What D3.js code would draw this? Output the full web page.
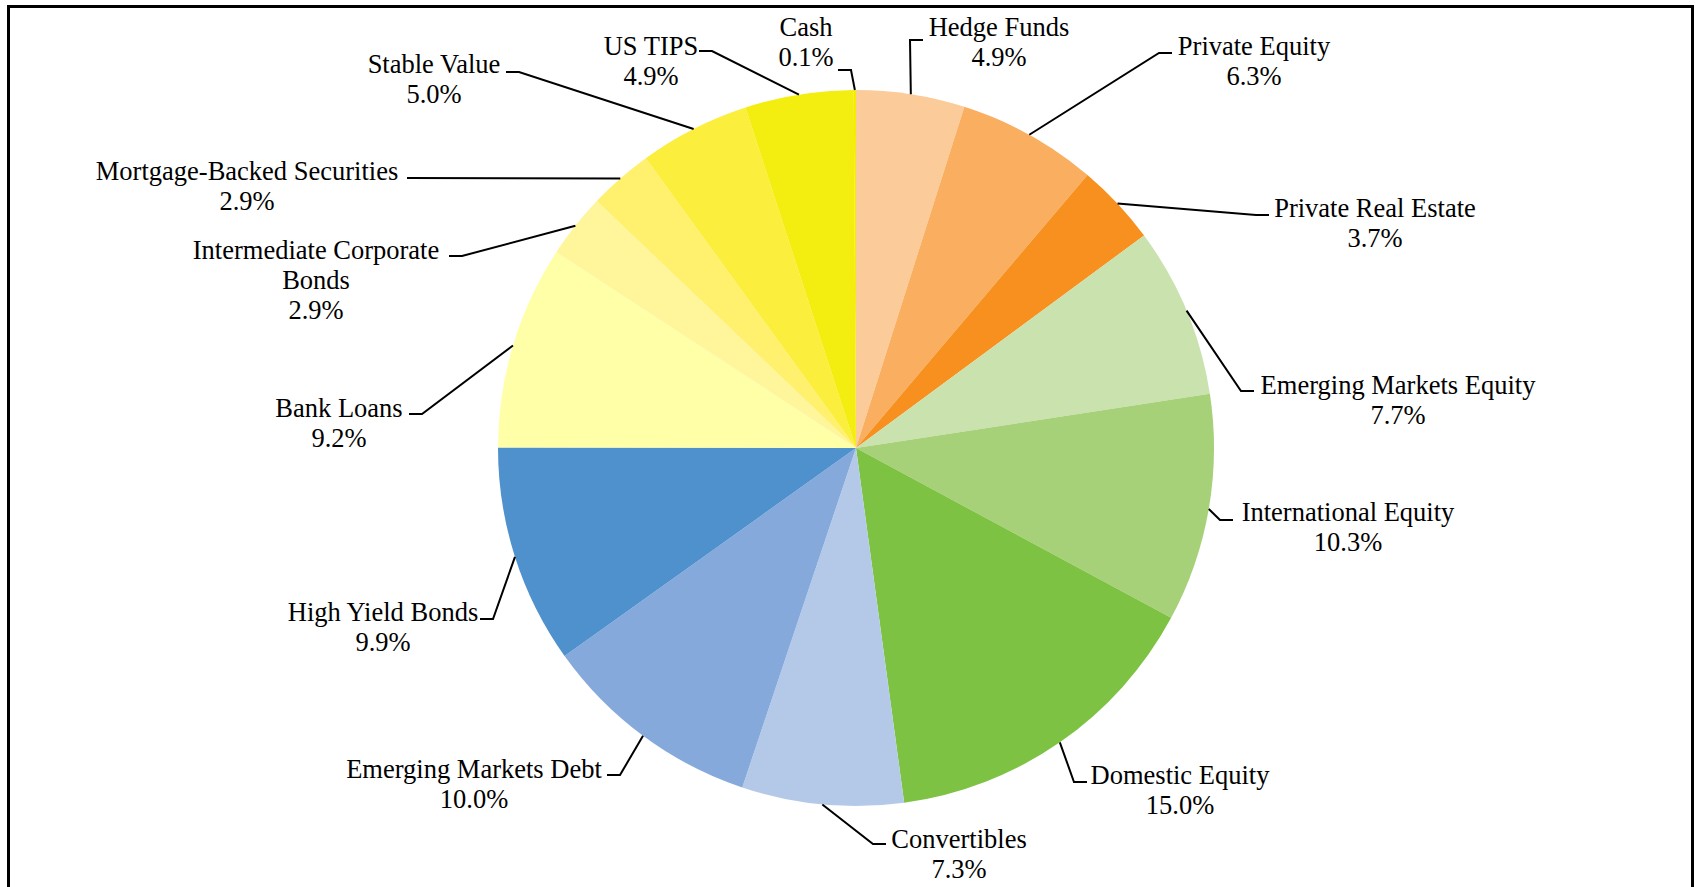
<!DOCTYPE html>
<html>
<head>
<meta charset="utf-8">
<script src="https://cdn.jsdelivr.net/npm/d3@7"></script>
<style>
  body { margin: 0; background: #fff; }
  text { font-family: "Liberation Serif", "Times New Roman", serif; font-size: 26.5px; fill: #000; }
</style>
</head>
<body>
<svg id="chart" width="1695" height="887"></svg>
<script>
// slices, clockwise from 12 o'clock
var categories = ["Hedge Funds", "Private Equity", "Private Real Estate", "Emerging Markets Equity",
  "International Equity", "Domestic Equity", "Convertibles", "Emerging Markets Debt",
  "High Yield Bonds", "Bank Loans", "Intermediate Corporate Bonds", "Mortgage-Backed Securities",
  "Stable Value", "US TIPS", "Cash"];
var values = [4.9, 6.3, 3.7, 7.7, 10.3, 15.0, 7.3, 10.0, 9.9, 9.2, 2.9, 2.9, 5.0, 4.9, 0.1];
var colors = ["#FBCB9A", "#F9AF5F", "#F7901E", "#C9E2AE", "#A6D178", "#7DC242", "#B4C9E8",
  "#86A9DB", "#4F91CD", "#FFFFA8", "#FFF59A", "#FFF06E", "#FCEE3C", "#F3EE0F", "#F5EC00"];
// how each label's text is broken into lines
var labelLines = [["Hedge Funds"], ["Private Equity"], ["Private Real Estate"], ["Emerging Markets Equity"],
  ["International Equity"], ["Domestic Equity"], ["Convertibles"], ["Emerging Markets Debt"],
  ["High Yield Bonds"], ["Bank Loans"], ["Intermediate Corporate", "Bonds"], ["Mortgage-Backed Securities"],
  ["Stable Value"], ["US TIPS"], ["Cash"]];

// label placement (hand arranged like the original): text centre x, first baseline y,
// end of the leader line at the label (ex, ey) and which way the short tail runs
var labelLayout = [
  {x: 999,  y: 36,  ex: 923, ey: 40,  dir: -1},
  {x: 1254, y: 55,  ex: 1172, ey: 53, dir: -1},
  {x: 1375, y: 217, ex: 1269, ey: 215, dir: -1},
  {x: 1398, y: 394, ex: 1254, ey: 391, dir: -1},
  {x: 1348, y: 521, ex: 1233, ey: 520, dir: -1},
  {x: 1180, y: 784, ex: 1087, ey: 782, dir: -1},
  {x: 959,  y: 848, ex: 886, ey: 844, dir: -1},
  {x: 474,  y: 778, ex: 607, ey: 775, dir: 1},
  {x: 383,  y: 621, ex: 480, ey: 619, dir: 1},
  {x: 339,  y: 417, ex: 409, ey: 414, dir: 1},
  {x: 316,  y: 259, ex: 449, ey: 256, dir: 1},
  {x: 247,  y: 180, ex: 407, ey: 178, dir: 1},
  {x: 434,  y: 73,  ex: 506, ey: 72,  dir: 1},
  {x: 651,  y: 55,  ex: 699, ey: 51,  dir: 1},
  {x: 806,  y: 36,  ex: 838, ey: 70,  dir: 1}
];

var svg = d3.select("#chart");
var cx = 856, cy = 448, radius = 358, lineH = 30;

// outer frame
svg.append("rect").attr("x", 8.5).attr("y", 6.5).attr("width", 1684).attr("height", 900)
  .attr("fill", "none").attr("stroke", "#000").attr("stroke-width", 3);

var data = categories.map(function(c, i){ return {name: c, value: values[i], i: i}; });

var pie = d3.pie().sort(null).value(function(d){ return d.value; });
var arc = d3.arc().innerRadius(0).outerRadius(radius);
var arcs = pie(data);

var g = svg.append("g").attr("transform", "translate(" + cx + "," + cy + ")");
g.selectAll("path.slice").data(arcs).enter().append("path")
  .attr("class", "slice")
  .attr("d", arc)
  .attr("fill", function(d){ return colors[d.data.i]; });

// leader lines: from the slice edge to the label, ending in a short horizontal tail
var line = d3.line();
svg.selectAll("path.leader").data(arcs).enter().append("path")
  .attr("class", "leader")
  .attr("fill", "none").attr("stroke", "#000").attr("stroke-width", 2)
  .attr("d", function(d){
    var a = (d.startAngle + d.endAngle) / 2;
    var p0 = [cx + radius * Math.sin(a), cy - radius * Math.cos(a)];
    var L = labelLayout[d.data.i];
    var tail = d.data.name === "Mortgage-Backed Securities" ? 0 : 13;
    return line([p0, [L.ex + L.dir * tail, L.ey], [L.ex, L.ey]]);
  });

// labels: name line(s) then percentage, centred
var labels = svg.selectAll("text.lbl").data(arcs).enter().append("text")
  .attr("class", "lbl")
  .attr("text-anchor", "middle");
labels.each(function(d){
  var L = labelLayout[d.data.i];
  var t = d3.select(this);
  var rows = labelLines[d.data.i].concat([d3.format(".1f")(d.data.value) + "%"]);
  rows.forEach(function(r, k){
    t.append("tspan").attr("x", L.x).attr("y", L.y + k * lineH).text(r);
  });
});
</script>
</body>
</html>
